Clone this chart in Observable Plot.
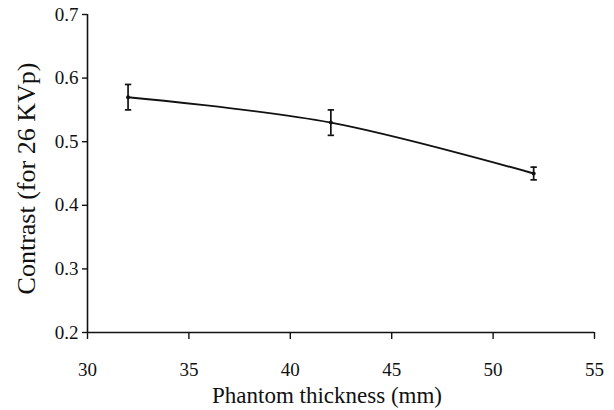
<!DOCTYPE html>
<html>
<head>
<meta charset="utf-8">
<script src="https://cdn.jsdelivr.net/npm/d3@7"></script>
<script src="https://cdn.jsdelivr.net/npm/@observablehq/plot@0.6"></script>
<style>
  html, body { margin: 0; padding: 0; background: #fff; }
  #chart svg { display: block; }
  #chart svg, #chart svg text { font-family: "Liberation Serif", "Times New Roman", serif; }
</style>
</head>
<body>
<div id="chart"></div>
<script>
// Data
const thickness = [32, 42, 52];            // Phantom thickness (mm)
const contrast  = [0.57, 0.53, 0.45];      // Contrast (for 26 KVp)
const errLow    = [0.55, 0.51, 0.44];
const errHigh   = [0.59, 0.55, 0.46];
const xTicks = [30, 35, 40, 45, 50, 55];
const yTicks = [0.2, 0.3, 0.4, 0.5, 0.6, 0.7];
const xTickLabels = ["30", "35", "40", "45", "50", "55"];
const yTickLabels = ["0.2", "0.3", "0.4", "0.5", "0.6", "0.7"];
const xLabel = "Phantom thickness (mm)";
const yLabel = "Contrast (for 26 KVp)";

const rows = thickness.map((t, i) => ({x: t, y: contrast[i], lo: errLow[i], hi: errHigh[i]}));
const xTickRows = xTicks.map((v, i) => ({v, label: xTickLabels[i]}));
const yTickRows = yTicks.map((v, i) => ({v, label: yTickLabels[i]}));

// horizontal cap symbol for error bars
const capSymbol = {
  draw(ctx, size) {
    const w = Math.sqrt(size);
    ctx.moveTo(-w, 0);
    ctx.lineTo(w, 0);
  }
};

const serif = "'Liberation Serif', 'Times New Roman', serif";

const chart = Plot.plot({
  width: 614,
  height: 410,
  marginLeft: 87,
  marginRight: 20,
  marginTop: 14,
  marginBottom: 78,
  style: {fontFamily: serif, fontSize: "19px", color: "#111", background: "#fff"},
  x: {domain: [30, 55]},
  y: {domain: [0.2, 0.7]},
  marks: [
    Plot.axisX({ticks: xTicks, tickSize: 7, label: null, tickFormat: () => "", stroke: "#111", strokeWidth: 1.4}),
    Plot.axisY({ticks: yTicks, tickSize: 5, label: null, tickFormat: () => "", stroke: "#111", strokeWidth: 1.4}),
    Plot.text(xTickRows, {x: "v", text: "label", frameAnchor: "bottom", dy: 37, fontSize: 19, fontFamily: serif, fill: "#111", textAnchor: "middle", lineAnchor: "middle"}),
    Plot.text(yTickRows, {y: "v", text: "label", frameAnchor: "left", dx: -9, fontSize: 19, fontFamily: serif, fill: "#111", textAnchor: "end", lineAnchor: "middle"}),
    Plot.ruleX([30], {stroke: "#111", strokeWidth: 1.6}),
    Plot.ruleY([0.2], {stroke: "#111", strokeWidth: 1.6}),
    Plot.line(rows, {x: "x", y: "y", curve: "catmull-rom", stroke: "#111", strokeWidth: 1.9}),
    Plot.ruleX(rows, {x: "x", y1: "lo", y2: "hi", stroke: "#111", strokeWidth: 1.7}),
    Plot.dot(rows, {x: "x", y: "lo", symbol: capSymbol, r: 1.8, stroke: "#111", strokeWidth: 1.7, fill: "none"}),
    Plot.dot(rows, {x: "x", y: "hi", symbol: capSymbol, r: 1.8, stroke: "#111", strokeWidth: 1.7, fill: "none"}),
    Plot.dot(rows, {x: "x", y: "y", r: 2, fill: "#111", stroke: "none"}),
    Plot.text([xLabel], {frameAnchor: "bottom", dy: 63, dx: -14, fontSize: 23, fontFamily: serif, fill: "#111", textAnchor: "middle", lineAnchor: "middle"}),
    Plot.text([yLabel], {frameAnchor: "left", dx: -61, dy: 5, rotate: -90, fontSize: 26, fontFamily: serif, fill: "#111", textAnchor: "middle", lineAnchor: "middle"})
  ]
});

document.getElementById("chart").appendChild(chart);
</script>
</body>
</html>
